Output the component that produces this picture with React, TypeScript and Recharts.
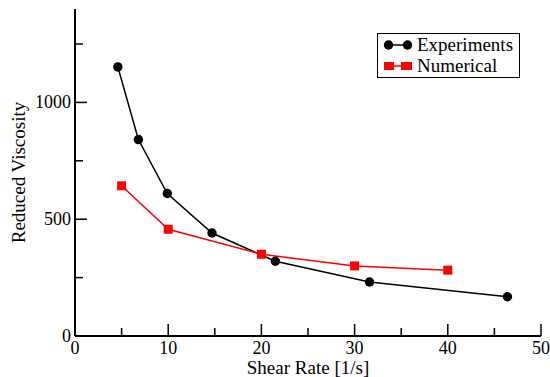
import React from 'react';
import { LineChart, Line, XAxis, YAxis, Legend } from 'recharts';

const expShear = [4.6, 6.8, 9.9, 14.7, 21.5, 31.6, 46.4];
const expVisc = [1152, 841, 610, 441, 320, 231, 168];
const numShear = [5, 10, 20, 30, 40];
const numVisc = [643, 457, 350, 300, 282];
const xTicks = [0, 5, 10, 15, 20, 25, 30, 35, 40, 45, 50];
const xLabels = [0, 10, 20, 30, 40, 50];
const yTicks = [0, 250, 500, 750, 1000, 1250];
const yLabels = [0, 500, 1000];

const expData = expShear.map((x, i) => ({ x, y: expVisc[i] }));
const numData = numShear.map((x, i) => ({ x, y: numVisc[i] }));

const FONT = "'Liberation Serif', 'Times New Roman', Times, Tinos, 'DejaVu Serif', 'Noto Serif', serif";
const MAJOR = 12;
const MINOR = 8;

const BottomTick = (props: any) => {
  const { x, y, payload } = props;
  const v = payload.value;
  const major = xLabels.includes(v);
  return (
    <g>
      <line x1={x} y1={y} x2={x} y2={y - (major ? MAJOR : MINOR)} stroke="#000" strokeWidth={1.5} />
      {major && (
        <text x={x} y={y + 18} textAnchor="middle" style={{ fontFamily: FONT, fontSize: 18 }} fill="#000">
          {v}
        </text>
      )}
    </g>
  );
};

const TopTick = (props: any) => {
  const { x, y, payload } = props;
  const major = xLabels.includes(payload.value);
  return <line x1={x} y1={y} x2={x} y2={y + (major ? MAJOR : MINOR)} stroke="#000" strokeWidth={1.5} />;
};

const LeftTick = (props: any) => {
  const { x, y, payload } = props;
  const v = payload.value;
  const major = yLabels.includes(v);
  return (
    <g>
      <line x1={x} y1={y} x2={x + (major ? MAJOR : MINOR)} y2={y} stroke="#000" strokeWidth={1.5} />
      {major && (
        <text x={x - 4} y={y + 6} textAnchor="end" style={{ fontFamily: FONT, fontSize: 18 }} fill="#000">
          {v}
        </text>
      )}
    </g>
  );
};

const RightTick = (props: any) => {
  const { x, y, payload } = props;
  const major = yLabels.includes(payload.value);
  return <line x1={x} y1={y} x2={x - (major ? MAJOR : MINOR)} y2={y} stroke="#000" strokeWidth={1.5} />;
};

const SquareDot = (props: any) => {
  const { cx, cy, index } = props;
  if (cx == null || cy == null) return <g key={index} />;
  return <rect key={index} x={cx - 4.5} y={cy - 4.5} width={9} height={9} fill="#ff0000" />;
};

const CircleDot = (props: any) => {
  const { cx, cy, index } = props;
  if (cx == null || cy == null) return <g key={index} />;
  return <circle key={index} cx={cx} cy={cy} r={4.7} fill="#000" />;
};

const LegendBox = (props: any) => {
  const payload = props.payload || [];
  return (
    <div
      style={{
        position: 'relative',
        width: 143,
        height: 45,
        boxSizing: 'border-box',
        border: '1.5px solid #000',
        background: '#fff',
        fontFamily: FONT,
        fontSize: 19,
        color: '#000',
      }}
    >
      {payload.map((p: any, i: number) => {
        const isExp = p.value === 'Experiments';
        const cy = i === 0 ? 11 : 32;
        return (
          <div key={i} style={{ position: 'absolute', left: 0, top: cy - 11, height: 22, width: 141 }}>
            <svg width={36} height={22} style={{ position: 'absolute', left: 5, top: 0 }}>
              <line x1={5} y1={11} x2={24} y2={11} stroke={p.color} strokeWidth={1.5} />
              {isExp ? (
                <>
                  <circle cx={5.5} cy={11} r={4.7} fill="#000" />
                  <circle cx={24.5} cy={11} r={4.7} fill="#000" />
                </>
              ) : (
                <>
                  <rect x={1} y={7} width={10} height={8} fill="#ff0000" />
                  <rect x={18} y={7} width={11} height={8} fill="#ff0000" />
                </>
              )}
            </svg>
            <span style={{ position: 'absolute', left: 39, top: 0, lineHeight: '22px', whiteSpace: 'nowrap' }}>
              {p.value}
            </span>
          </div>
        );
      })}
    </div>
  );
};

export default function App() {
  return (
    <div style={{ position: 'absolute', left: 0, top: 0, width: 550, height: 377, background: '#fff', fontFamily: FONT }}>
      <LineChart width={550} height={377} margin={{ top: 9, right: 9, left: 15, bottom: 11 }} style={{ fontFamily: FONT }}>
        <XAxis
          xAxisId="b"
          dataKey="x"
          type="number"
          domain={[0, 50]}
          ticks={xTicks}
          interval={0}
          height={30}
          tickSize={0}
          tickMargin={0}
          tick={<BottomTick />}
          axisLine={{ stroke: '#000', strokeWidth: 2 }}
          tickLine={false}
          allowDataOverflow
          label={{
            value: 'Shear Rate [1/s]',
            position: 'insideBottom',
            offset: -8,
            style: { fontFamily: FONT, fontSize: 19, fill: '#000' },
          }}
        />
        <XAxis
          xAxisId="t"
          orientation="top"
          type="number"
          domain={[0, 50]}
          ticks={xTicks}
          interval={0}
          height={0}
          tickSize={0}
          tickMargin={0}
          tick={<TopTick />}
          axisLine={{ stroke: '#000', strokeWidth: 2 }}
          tickLine={false}
          allowDataOverflow
        />
        <YAxis
          yAxisId="l"
          type="number"
          domain={[0, 1400]}
          ticks={yTicks}
          interval={0}
          width={60}
          tickSize={0}
          tickMargin={0}
          tick={<LeftTick />}
          axisLine={{ stroke: '#000', strokeWidth: 2 }}
          tickLine={false}
          allowDataOverflow
          label={{
            value: 'Reduced Viscosity',
            angle: -90,
            position: 'insideLeft',
            offset: 3,
            style: { fontFamily: FONT, fontSize: 19, fill: '#000', textAnchor: 'middle' },
          }}
        />
        <YAxis
          yAxisId="r"
          orientation="right"
          type="number"
          domain={[0, 1400]}
          ticks={yTicks}
          interval={0}
          width={0}
          tickSize={0}
          tickMargin={0}
          tick={<RightTick />}
          axisLine={{ stroke: '#000', strokeWidth: 2 }}
          tickLine={false}
          allowDataOverflow
        />
        <Legend
          layout="vertical"
          align="center"
          verticalAlign="middle"
          content={<LegendBox />}
          wrapperStyle={{ position: 'absolute', left: 377, top: 33, width: 143, height: 45 }}
        />
        <Line
          xAxisId="b"
          yAxisId="l"
          data={expData}
          dataKey="y"
          name="Experiments"
          stroke="#000"
          strokeWidth={1.5}
          dot={<CircleDot />}
          activeDot={false}
          isAnimationActive={false}
        />
        <Line
          xAxisId="b"
          yAxisId="l"
          data={numData}
          dataKey="y"
          name="Numerical"
          stroke="#ff0000"
          strokeWidth={1.5}
          dot={<SquareDot />}
          activeDot={false}
          isAnimationActive={false}
        />
      </LineChart>
    </div>
  );
}
